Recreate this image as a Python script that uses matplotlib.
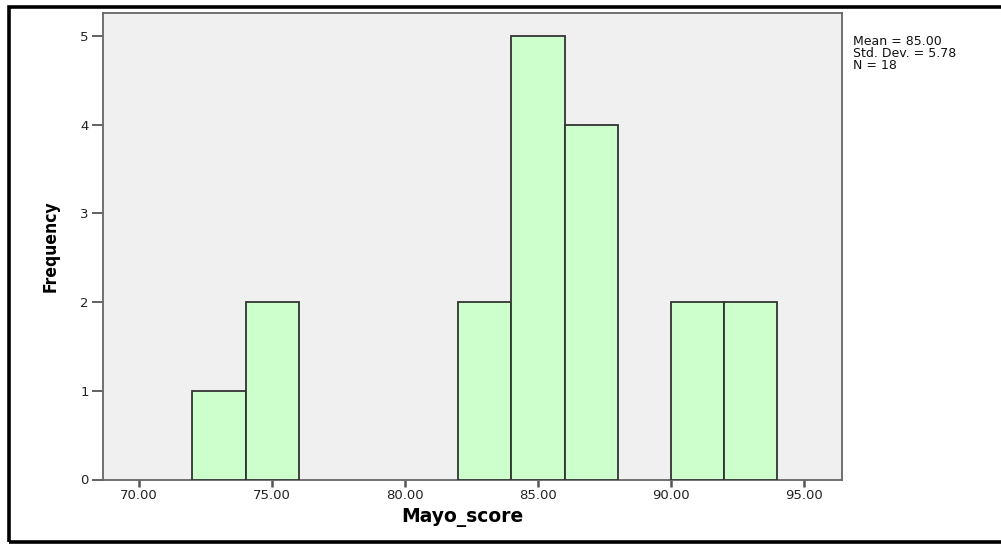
import matplotlib
matplotlib.use("Agg")
import matplotlib.pyplot as plt
from matplotlib.patches import Rectangle

# Data
bin_left = [72, 74, 82, 84, 86, 90, 92]
counts = [1, 2, 2, 5, 4, 2, 2]
bin_width = 2
x_ticks = [70, 75, 80, 85, 90, 95]
x_tick_labels = ["70.00", "75.00", "80.00", "85.00", "90.00", "95.00"]
y_ticks = [0, 1, 2, 3, 4, 5]
stats_text = "Mean = 85.00\nStd. Dev. = 5.78\nN = 18"
x_label = "Mayo_score"
y_label = "Frequency"

W, H = 1001, 544
fig = plt.figure(figsize=(W / 100, H / 100), dpi=100)
fig.patch.set_facecolor("white")

ax = fig.add_axes([102.7 / W, 1 - 479.5 / H, (842 - 102.7) / W, (479.5 - 13) / H])
ax.set_facecolor("#F0F0F0")
ax.bar(bin_left, counts, width=bin_width, align="edge", color="#CCFFCC",
       edgecolor="#333333", linewidth=1.3, zorder=3)

ax.set_xlim(68.63, 96.43)
ax.set_ylim(0, 5.26)
ax.set_xticks(x_ticks)
ax.set_xticklabels(x_tick_labels, fontfamily="DejaVu Sans", fontsize=9.5, color="#222222")
ax.set_yticks(y_ticks)
ax.set_yticklabels([str(v) for v in y_ticks], fontfamily="DejaVu Sans", fontsize=9.5, color="#222222")
ax.tick_params(axis="y", length=8, width=1.3, color="#555555", pad=2)
ax.tick_params(axis="x", length=5, width=1.8, color="#555555", pad=1.5)
for s in ax.spines.values():
    s.set_color("#666666")
    s.set_linewidth(1.3)

ax.set_xlabel(x_label, fontfamily="DejaVu Sans", fontweight="bold", fontsize=13.5, labelpad=3)
ax.xaxis.set_label_coords(0.487, -0.061)
ax.xaxis.label.set_va("top")
ax.set_ylabel(y_label, fontfamily="DejaVu Sans", fontstretch="condensed",
              fontweight="bold", fontsize=12.5, labelpad=15)

fig.text(853 / W, 1 - 35 / H, stats_text, fontfamily="DejaVu Sans", fontsize=9,
         va="top", ha="left", linespacing=0.92, color="#111111")

# outer frame (left, top, bottom)
fig.add_artist(Rectangle((8.5 / W, 2.0 / H), 1.1, 1 - 8.5 / H, transform=fig.transFigure,
                         fill=False, edgecolor="black", linewidth=2.6))

fig.savefig("out.png", dpi=100)
